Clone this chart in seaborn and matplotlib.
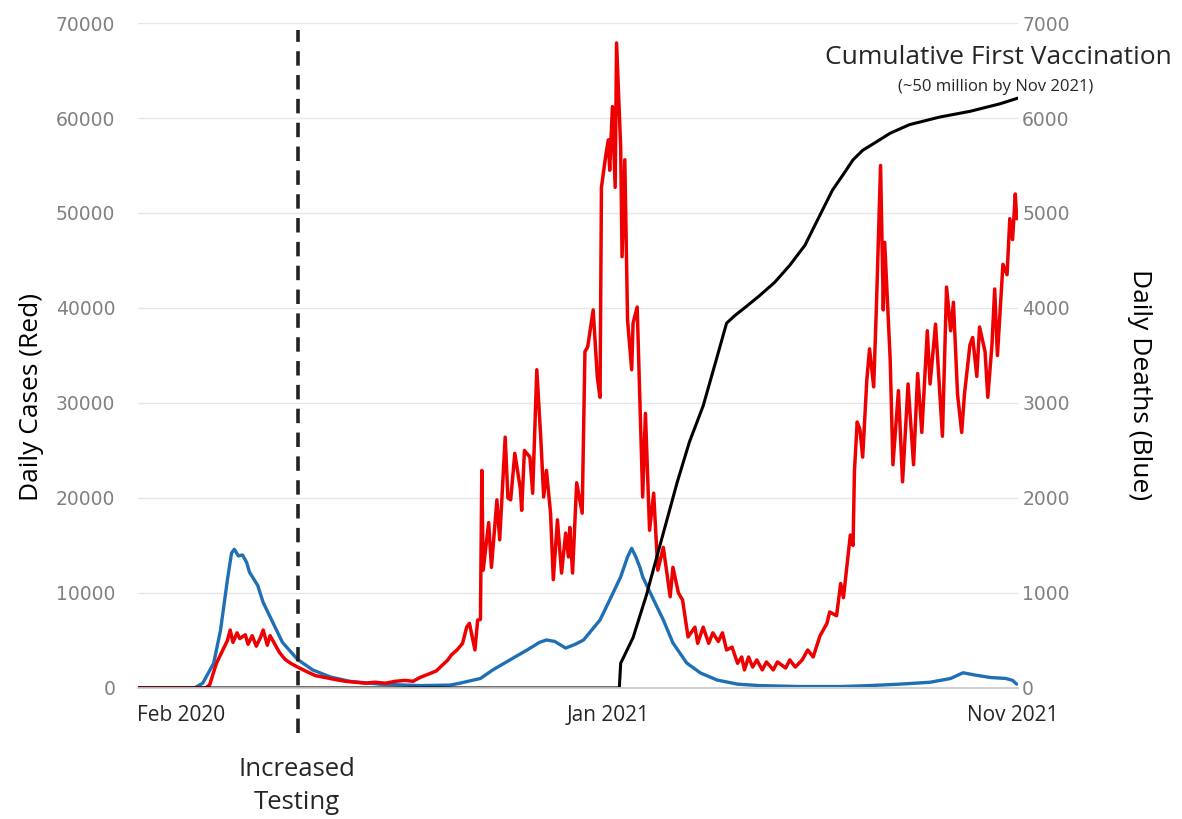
import matplotlib
matplotlib.use("Agg")
import matplotlib.pyplot as plt
import pandas as pd
import seaborn as sns

# x values are days counted from 31 Jan 2020
case_days = [0, 49, 52, 57, 59, 61, 65, 67, 69, 72, 74, 78, 80, 83, 86, 89, 91, 94, 96, 98,
             101, 103, 107, 111, 116, 123, 129, 136, 143, 151, 158, 165, 172, 180, 187, 194, 200,
             205, 212, 217, 222, 225, 228, 232, 236, 239, 241, 245, 247, 249, 250, 251, 255, 257,
             261, 263, 267, 269, 271, 274, 278, 279, 281, 285, 287, 290, 293, 295, 297, 300, 302,
             305, 308, 311, 313, 314, 316, 319, 323, 325, 327, 331, 334, 336, 337, 340, 342, 343,
             345, 347, 348, 351, 352, 354, 356, 359, 360, 363, 367, 369, 372, 375, 378, 382, 387,
             389, 393, 396, 400, 405, 407, 411, 415, 418, 422, 425, 428, 432, 436, 439, 441, 444,
             447, 450, 454, 457, 462, 465, 471, 474, 478, 483, 487, 491, 496, 501, 503, 508, 511,
             513, 518, 520, 521, 523, 525, 527, 530, 532, 535, 537, 540, 542, 543, 547, 549, 553,
             556, 560, 564, 567, 570, 574, 576, 580, 585, 588, 591, 593, 596, 599, 601, 605, 607,
             610, 612, 616, 618, 621, 623, 625, 629, 632, 634, 636, 638, 639]
case_values = [0, 0, 300, 2600, 3200, 3800, 5000, 6100, 4800, 5800, 5200, 5600, 4600, 5500, 4400,
               5300, 6100, 4500, 5500, 5000, 4200, 3700, 3000, 2600, 2200, 1700, 1300, 1100, 900,
               700, 600, 500, 600, 500, 700, 800, 700, 1100, 1500, 1800, 2500, 2900, 3500, 4000,
               4700, 6400, 6800, 4000, 7150, 7200, 22900, 12400, 17400, 12700, 19800, 15600, 26400,
               20000, 19800, 24700, 21000, 18700, 25000, 24300, 20500, 33500, 26000, 20100, 22900,
               18400, 11400, 17700, 12100, 16300, 13800, 16900, 12100, 21600, 18400, 35400, 35900,
               39800, 32700, 30600, 52700, 55900, 57700, 54500, 61200, 52700, 67900, 56900, 45400,
               55600, 38700, 33500, 38400, 40100, 20100, 28900, 16600, 20500, 12400, 14800, 9600,
               12700, 10000, 9260, 5370, 6400, 4700, 6400, 4700, 5800, 4900, 5800, 4000, 4300, 2600,
               3260, 1900, 3260, 2200, 2950, 1900, 2740, 1900, 2740, 2100, 2950, 2200, 2950, 4000,
               3260, 5500, 6800, 8000, 7600, 11000, 9500, 16100, 15000, 22800, 28000, 27200, 24300,
               32400, 35700, 31700, 40200, 55000, 39800, 46900, 34600, 23500, 31300, 21700, 32000,
               23500, 33100, 26900, 37600, 32000, 38300, 26500, 42200, 37600, 40600, 30900, 26900,
               30900, 36100, 36900, 32800, 38000, 35400, 30600, 36100, 42000, 35000, 44600, 43500,
               49400, 47200, 52000, 49400]

death_days = [0, 41, 47, 55, 60, 65, 68, 70, 73, 76, 79, 81, 87, 91, 98, 105, 116, 127, 140, 154,
              176, 205, 227, 234, 249, 258, 271, 283, 292, 297, 303, 311, 318, 324, 336, 343, 351,
              356, 359, 362, 365, 367, 375, 382, 389, 399, 409, 421, 436, 452, 481, 511, 532, 554,
              576, 591, 600, 609, 620, 631, 636, 639]
death_values = [0, 0, 50, 260, 610, 1140, 1420, 1460, 1390, 1400, 1320, 1220, 1080, 900, 690, 480,
                300, 190, 115, 70, 40, 25, 30, 50, 100, 190, 300, 400, 480, 505, 490, 420, 460, 505,
                716, 926, 1170, 1380, 1470, 1380, 1270, 1170, 926, 716, 474, 263, 158, 84, 40, 25,
                15, 15, 25, 40, 60, 100, 160, 135, 110, 100, 80, 40]

# cumulative first doses, drawn against the cases axis (~50 million at the end)
vacc_days = [0, 350, 351, 360, 370, 372, 382, 392, 401, 411, 421, 428, 434, 441, 452, 463, 474,
             485, 496, 505, 514, 520, 527, 536, 547, 561, 583, 605, 627, 640]
vacc_values = [0, 0, 2600, 5300, 9900, 11000, 16300, 21600, 25900, 29700, 34800, 38400, 39200,
               40000, 41300, 42700, 44500, 46600, 49800, 52400, 54300, 55600, 56600, 57400, 58400,
               59300, 60100, 60700, 61500, 62100]

x_tick_days = [31, 342, 636]
x_tick_labels = ["Feb 2020", "Jan 2021", "Nov 2021"]
testing_day = 116

cases = pd.DataFrame({"day": case_days, "cases": case_values})
deaths = pd.DataFrame({"day": death_days, "deaths": death_values})
vacc = pd.DataFrame({"day": vacc_days, "vaccinated": vacc_values})

sns.set_theme(style="white")
plt.rcParams["font.family"] = ["Open Sans", "DejaVu Sans"]

fig = plt.figure(figsize=(11.82, 8.19), dpi=100)
ax = fig.add_axes([0.1168, 0.16, 0.7445, 0.8119])
ax2 = ax.twinx()

# deaths sit underneath the other lines
sns.lineplot(data=deaths, x="day", y="deaths", ax=ax2, color="#1f6fb4", linewidth=2.4,
             estimator=None, sort=False)
sns.lineplot(data=cases, x="day", y="cases", ax=ax, color="#ee0000", linewidth=2.5,
             estimator=None, sort=False)
sns.lineplot(data=vacc, x="day", y="vaccinated", ax=ax, color="black", linewidth=2.2,
             estimator=None, sort=False)

ax.set_zorder(ax2.get_zorder() + 1)
ax.patch.set_visible(False)

ax.set_xlim(0, 640)
ax.set_ylim(0, 70000)
ax2.set_ylim(0, 7000)
ax.set_yticks(range(0, 70001, 10000))
ax2.set_yticks(range(0, 7001, 1000))
ax2.yaxis.grid(True, color="#e6e6e6", linewidth=1)
ax.yaxis.grid(False)
ax.xaxis.grid(False)

ax.set_xticks(x_tick_days)
ax.set_xticklabels(x_tick_labels, fontsize=15, color="#262626")
ax.tick_params(axis="x", length=0, pad=12)
ax.tick_params(axis="y", length=0, pad=16.5, labelsize=13.5, labelcolor="#808080",
               labelfontfamily="DejaVu Sans")
ax2.tick_params(axis="y", length=0, pad=3, labelsize=13.5, labelcolor="#808080",
                labelfontfamily="DejaVu Sans")

for a in (ax, ax2):
    for side in ("top", "left", "right"):
        a.spines[side].set_visible(False)
    a.spines["bottom"].set_color("#d0d0d0")

ax.set_xlabel("")
ax.set_ylabel("Daily Cases (Red)", fontsize=19, color="black")
ax.yaxis.set_label_coords(-0.107, 0.4376)
ax2.set_ylabel("Daily Deaths (Blue)", fontsize=19, color="black", rotation=270, va="center")
ax2.yaxis.set_label_coords(1.138, 0.4556)

# increased testing marker, running just below the axis
ax.axvline(testing_day, ymin=-0.068, ymax=0.99, color="#222222", linewidth=2.6,
           linestyle=(0, (4, 2.6)), clip_on=False)
fig.text(297 / 1182, 1 - 786 / 819, "Increased\nTesting", ha="center", va="center",
         fontsize=18.5, linespacing=1.45)

fig.text(998 / 1182, 1 - 57 / 819, "Cumulative First Vaccination", ha="center", va="center",
         fontsize=19)
fig.text(996 / 1182, 1 - 87 / 819, "(~50 million by Nov 2021)", ha="center", va="center",
         fontsize=12)

fig.savefig("out.png", dpi=100)
